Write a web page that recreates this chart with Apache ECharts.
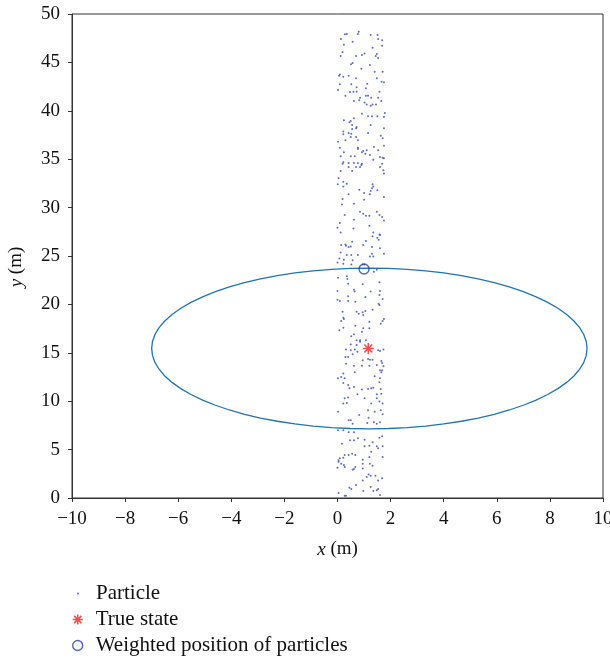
<!DOCTYPE html>
<html>
<head>
<meta charset="utf-8">
<script src="https://cdn.jsdelivr.net/npm/echarts@6/dist/echarts.min.js"></script>
<style>html,body{margin:0;padding:0;background:#fff}#c{width:610px;height:659px}</style>
</head>
<body>
<div id="c"></div>
<script>
// ---- data ----
var xTicks = [-10, -8, -6, -4, -2, 0, 2, 4, 6, 8, 10];
var yTicks = [0, 5, 10, 15, 20, 25, 30, 35, 40, 45, 50];
var legendNames = ['Particle', 'True state', 'Weighted position of particles'];
var trueState = [[1.16, 15.45]];
var weightedPosition = [[1.0, 23.65]];
var ellipseCenter = [1.2, 15.45];
var ellipseRadii = [8.2, 8.3];
var particles = [
[0.35,47.93],[0.28,47.9],[0.80,48.17],[0.77,47.93],[1.25,47.83],[1.51,47.83],[0.13,47.41],[0.57,47.14],[1.53,47.41],[1.68,47.28],
[0.24,46.83],[1.68,46.72],[1.32,46.52],[0.19,46.04],[1.02,45.93],[1.48,45.86],[0.12,45.66],[0.70,45.66],[0.92,45.76],[1.44,45.66],
[1.53,45.45],[0.57,44.93],[0.51,44.8],[1.22,44.73],[0.90,44.35],[1.40,44.04],[1.70,44.04],[0.09,43.76],[0.06,43.63],[0.22,43.52],
[0.42,43.63],[0.70,43.35],[1.48,43.35],[1.66,43.0],[1.75,42.94],[0.09,42.73],[0.52,42.73],[1.12,42.8],[0.72,42.42],[1.07,42.32],
[0.02,42.15],[1.58,41.97],[0.47,41.94],[0.60,41.97],[0.72,41.97],[0.30,41.56],[1.07,41.56],[1.15,41.56],[0.85,41.35],[1.27,41.35],
[1.53,41.35],[0.82,41.08],[0.62,41.01],[1.02,40.87],[1.65,41.01],[1.32,40.66],[1.10,40.66],[1.45,40.66],[1.25,40.53],
[0.92,39.70],[1.78,39.77],[1.15,39.43],[1.30,39.43],[1.50,39.43],[1.75,39.36],[0.62,39.22],[0.24,39.02],[0.50,38.95],[0.45,38.81],
[0.55,38.53],[0.72,38.33],[0.70,38.19],[0.55,38.12],[1.25,38.53],[1.75,38.19],[0.22,37.85],[0.42,37.71],[0.22,37.57],[0.52,37.64],
[1.15,37.71],[1.63,37.43],[1.70,37.16],[0.70,37.29],[0.50,37.29],[0.77,36.95],[0.30,36.95],[0.02,36.81],[1.75,36.4],[1.37,36.26],
[0.09,36.19],[0.77,36.19],[0.77,36.05],[0.97,35.85],[1.10,35.92],[0.92,35.71],[1.05,35.57],[1.22,35.43],[1.53,35.92],[0.24,35.71],
[0.12,35.30],[0.50,35.30],[0.65,35.30],[1.60,35.23],[1.70,35.16],[1.75,35.09],[1.35,34.95],[0.22,34.68],[0.42,34.61],[0.62,34.61],
[0.77,34.61],[0.92,34.54],[0.19,34.54],[1.68,34.54],[0.42,34.2],[0.70,34.2],[0.85,34.2],[0.90,34.4],[1.60,34.2],[0.12,33.78],
[0.55,33.78],[1.73,33.85],[1.75,33.51],[0.04,33.02],[0.22,32.68],[0.35,32.47],[0.01,32.40],[1.32,32.40],
[0.22,32.19],[1.35,32.19],[1.30,31.99],[0.82,31.85],[1.25,31.71],[1.50,31.78],[1.00,31.50],[1.22,31.37],[0.42,31.37],[1.75,31.09],
[0.19,30.88],[1.00,30.81],[0.17,30.33],[0.62,30.40],[0.85,29.58],[0.97,29.37],[1.07,29.16],[1.20,29.16],[1.48,29.58],[1.58,29.23],
[1.68,29.02],[0.27,29.23],[0.62,28.75],[1.75,28.68],[0.09,28.40],[1.20,28.13],[0.0,27.92],[0.60,27.85],[0.12,27.44],[1.35,27.44],
[1.58,27.23],[1.60,27.17],[1.32,27.03],[1.50,26.89],[1.55,26.68],[0.55,26.48],[1.07,26.54],[0.14,26.13],[0.30,26.2],[0.32,26.06],
[0.42,25.93],[0.50,25.99],[0.97,26.13],[1.30,25.93],[1.60,25.79],[0.12,25.37],[1.75,25.24],[0.35,25.10],[0.52,25.10],[0.77,25.10],
[1.30,25.24],[1.35,24.96],[1.22,24.96],[0.07,24.75],[0.24,24.62],[0.57,24.55],[0.95,24.13],[1.02,24.13],[0.52,24.13],[0.22,24.2],
[0.0,24.34],
[1.48,23.59],[1.37,23.38],[0.02,22.76],[0.35,22.90],[0.37,22.62],[1.58,22.28],[0.40,22.14],[0.95,22.07],[0.62,21.52],[0.65,21.32],
[0.0,21.38],[1.25,21.32],[1.60,21.38],[0.40,20.83],[1.05,20.76],[1.58,20.97],[0.0,20.49],[0.09,20.35],[0.40,20.35],[0.67,20.28],
[1.70,20.56],[1.55,20.08],[1.58,19.94],[1.32,19.46],[0.19,19.25],[0.72,19.25],[0.95,19.18],[0.80,19.04],[0.97,18.90],[1.05,19.32],
[0.22,18.63],[0.24,18.49],[1.20,18.22],[1.75,18.49],[1.70,18.29],[0.14,18.29],[1.63,18.01],[0.67,17.80],[0.22,17.60],[0.97,17.53],
[1.20,17.53],[0.07,17.32],[0.92,17.18],[0.62,16.91],[0.52,16.70],[0.72,16.29],[0.85,16.29],[1.07,16.29],[0.85,16.15],[0.50,15.87],
[0.72,15.81],[0.32,15.33],[0.50,15.26],[0.65,15.33],[0.75,15.12],[0.57,14.85],[0.30,14.57],[0.40,14.57],[1.53,15.26],[1.60,15.19],
[1.73,15.33],[0.95,14.23],[1.15,14.36],[1.22,14.29],[1.32,14.29],[0.32,13.88],[1.65,14.16],[1.68,13.95],[0.62,13.67],[0.92,13.67],
[1.20,13.67],[1.48,13.74],[1.73,13.61],[1.60,13.19],[1.68,13.19],[0.22,12.85],[0.14,12.5],[0.02,12.37],[0.27,12.37],[0.65,12.99],
[1.65,12.99],[1.40,12.57],[1.60,12.37],[0.22,11.88],[1.58,11.95],[0.40,11.68],[0.62,11.47],[0.45,11.33],[1.27,11.33],[1.35,11.40],
[0.92,11.20],[1.15,11.26],[1.63,11.26],[1.65,10.78],[1.48,10.71],[0.75,10.71],[0.27,10.30],[0.40,10.37],[1.02,10.30],[1.48,10.30],
[1.58,9.96],[1.70,9.75],[0.35,9.82],[0.22,9.75],[1.27,9.75],[0.02,8.92],[1.15,9.06],[1.40,8.92],[1.63,9.06],[0.82,8.58],
[1.70,8.65],[0.50,8.03],[0.42,8.03],[1.17,8.30],[0.57,7.68],[1.12,7.75],[1.37,7.82],[1.60,7.82],[1.48,7.68],
[0.02,6.99],[0.22,6.99],[0.42,6.78],[0.62,6.78],[0.47,5.96],[0.62,5.96],[0.77,6.16],[1.02,6.03],[0.17,5.61],[1.32,5.75],
[1.58,6.23],[1.68,6.37],[1.02,5.34],[1.20,5.41],[1.48,5.34],[1.53,5.13],[1.70,5.34],[1.27,4.79],[0.27,4.44],[0.42,4.44],
[0.55,4.58],[0.67,4.44],[0.09,4.10],[0.22,4.17],[0.04,3.89],[0.04,3.75],[0.95,3.96],[1.20,4.23],[1.70,4.23],[0.14,3.55],
[0.24,3.41],[0.27,3.20],[0.0,3.13],[0.67,3.20],[0.62,3.0],[0.57,2.93],[0.95,3.55],[1.22,3.55],[1.32,3.34],[0.95,3.06],
[1.17,2.44],[1.25,2.31],[1.43,2.31],[1.10,2.17],[1.68,2.03],[0.95,1.82],[1.53,1.82],[0.70,1.34],[0.45,1.07],[0.52,0.93],
[1.25,1.14],[1.53,0.93],[1.48,0.79],[0.97,0.72],[1.35,0.72],[0.04,0.52],[1.60,0.31],[0.27,0.24],[0.32,0.24]
];

// ---- chart ----
var FONT = '"Liberation Serif", "DejaVu Serif", serif';
var AX = '#333';
var TXT = '#111';
function fmt(v) { return String(v).replace('-', '\u2212'); }
var starPath = 'path://M0,-5L0,5M-5,0L5,0M-3.6,-3.6L3.6,3.6M-3.6,3.6L3.6,-3.6';
var starStyle = { color: 'rgba(0,0,0,0)', borderColor: '#f02020', borderWidth: 1.5 };
var circStyle = { color: 'rgba(0,0,0,0)', borderColor: '#2a3f9e', borderWidth: 1.4 };
var partColor = '#3448b8';

function legendAt(name, left, top, h, icon, style) {
  return {
    data: [{ name: name, icon: icon, itemStyle: style }],
    orient: 'horizontal', left: left, top: top, padding: 0,
    itemWidth: 26, itemHeight: h, selectedMode: false,
    textStyle: { fontFamily: FONT, fontSize: 21, color: TXT, lineHeight: 20 }
  };
}
var nameStyle = function (pad) {
  return { fontFamily: FONT, fontSize: 19, color: TXT, padding: pad,
    rich: { i: { fontStyle: 'italic', fontFamily: FONT, fontSize: 19, color: TXT } } };
};

var chart = echarts.init(document.getElementById('c'), null, { renderer: 'canvas' });
chart.setOption({
  animation: false,
  backgroundColor: '#fff',
  grid: { left: 72, right: 7, top: 14, bottom: 161, outerBoundsMode: 'none', containLabel: false,
    show: true, borderColor: AX, borderWidth: 1, backgroundColor: 'transparent' },
  xAxis: {
    type: 'value', min: xTicks[0], max: xTicks[xTicks.length - 1], interval: 2,
    axisLine: { show: true, onZero: false, lineStyle: { color: AX, width: 1 } },
    axisTick: { show: true, inside: false, length: 4, lineStyle: { color: AX } },
    splitLine: { show: false },
    axisLabel: { formatter: fmt, fontFamily: FONT, fontSize: 19, color: TXT, margin: 12, hideOverlap: false },
    name: '{i|x} (m)', nameLocation: 'middle', nameGap: 42,
    nameTextStyle: nameStyle(0)
  },
  yAxis: {
    type: 'value', min: yTicks[0], max: yTicks[yTicks.length - 1], interval: 5,
    axisLine: { show: true, onZero: false, lineStyle: { color: AX, width: 1 } },
    axisTick: { show: true, inside: false, length: 4, lineStyle: { color: AX } },
    splitLine: { show: false },
    axisLabel: { formatter: fmt, fontFamily: FONT, fontSize: 19, color: TXT, margin: 12, hideOverlap: false },
    name: '{i|y} (m)', nameLocation: 'middle', nameGap: 46, nameRotate: 90,
    nameTextStyle: nameStyle([0, 22, 0, 0])
  },
  legend: [
    legendAt(legendNames[0], 77, 583, 2, 'circle', { color: partColor }),
    legendAt(legendNames[1], 72, 609, 10, starPath, starStyle),
    legendAt(legendNames[2], 72, 635, 10, 'circle', circStyle)
  ],
  series: [
    {
      name: legendNames[0], type: 'scatter', data: particles,
      symbol: 'circle', symbolSize: 2, itemStyle: { color: partColor }, z: 2
    },
    {
      name: 'ellipse', type: 'custom', data: [[ellipseCenter[0], ellipseCenter[1], ellipseRadii[0], ellipseRadii[1]]],
      renderItem: function (params, api) {
        var cx = api.value(0), cy = api.value(1), rx = api.value(2), ry = api.value(3);
        var pts = [];
        var n = 72;
        for (var k = 0; k <= n; k++) {
          var t = 2 * Math.PI * k / n;
          pts.push(api.coord([cx + rx * Math.cos(t), cy + ry * Math.sin(t)]));
        }
        return { type: 'polyline', shape: { points: pts }, style: { stroke: '#1f74b8', lineWidth: 1.3, fill: null } };
      },
      z: 3, silent: true
    },
    {
      name: legendNames[1], type: 'scatter', data: trueState,
      symbol: starPath, symbolSize: 11, itemStyle: starStyle, z: 5
    },
    {
      name: legendNames[2], type: 'scatter', data: weightedPosition,
      symbol: 'circle', symbolSize: 10, itemStyle: circStyle, z: 5
    }
  ]
});
</script>
</body>
</html>
